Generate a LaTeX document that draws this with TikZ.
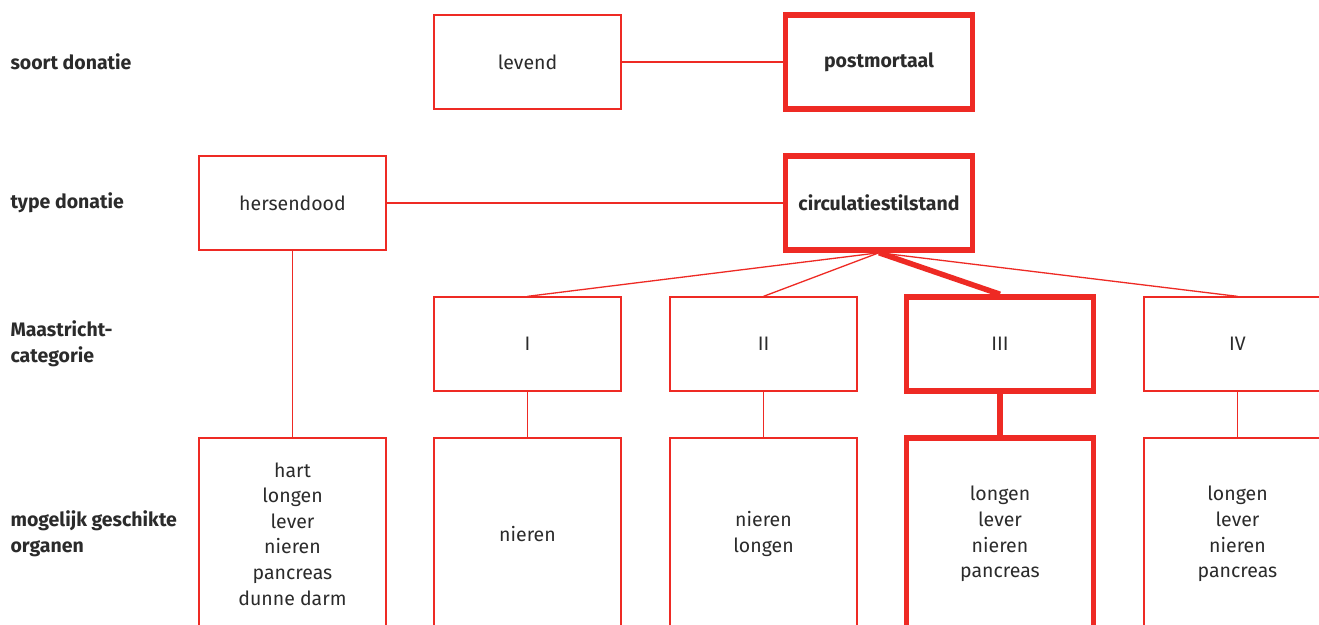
\documentclass[tikz,border=0pt]{standalone}
\usepackage{fontspec}
\setmainfont{Fira Sans}
\usetikzlibrary{positioning}
\definecolor{donred}{HTML}{EE2A24}
\definecolor{dontext}{HTML}{2B2B2B}
\newcommand{\donsize}{\fontsize{19.5}{25.6}\selectfont}
\tikzstyle{box}   = [rectangle, draw=donred, line width=1.3pt, minimum width=187pt,
                     minimum height=94pt, text=dontext, align=center, inner sep=0pt]
\tikzstyle{chosen} = [box, line width=5.5pt, font=\donsize\bfseries]
\tikzstyle{organ} = [box, minimum height=192pt]
\tikzstyle{rowlabel} = [anchor=west, align=left, text=dontext, font=\donsize\bfseries]
\tikzstyle{link}  = [donred, line width=1.3pt]
\tikzstyle{path}  = [donred, line width=5.5pt]

\begin{document}
\begin{tikzpicture}[x=1pt, y=-1pt, font=\donsize]
  \useasboundingbox (0,0) rectangle (1319,624);
  \clip (0,0) rectangle (1319,624);
  \fill[white] (0,0) rectangle (1319,624);

  % row labels
  \node[rowlabel] (lsoort) at (7,62)  {soort donatie};
  \node[rowlabel] (ltype)  at (7,203) {type donatie};
  \node[rowlabel] (lcat)   at (7,344) {Maastricht-\\categorie};
  \node[rowlabel] (lorg)   at (7,534) {mogelijk geschikte\\organen};

  % soort donatie
  \node[box]    (levend)  at (527.5,62) {levend};
  \node[chosen] (postmor) at (879,62)   {postmortaal};

  % type donatie
  \node[box]    (hersen) at (292.5,203) {hersendood};
  \node[chosen] (circ)   at (879,203)   {circulatiestilstand};

  % Maastricht-categorie
  \node[box]                      (catI)   at (527.5,344) {I};
  \node[box]                      (catII)  at (763.5,344) {II};
  \node[chosen, font=\donsize]    (catIII) at (1000,344)  {III};
  \node[box]                      (catIV)  at (1237.5,344) {IV};

  % organen
  \node[organ] (orgH)   at (292.5,534) {hart\\longen\\lever\\nieren\\pancreas\\dunne darm};
  \node[organ] (orgI)   at (527.5,534) {nieren};
  \node[organ] (orgII)  at (763.5,534) {nieren\\longen};
  \node[organ, line width=5.5pt] (orgIII) at (1000,534) {longen\\lever\\nieren\\pancreas};
  \node[organ] (orgIV)  at (1237.5,534) {longen\\lever\\nieren\\pancreas};

  % verbindingen
  \draw[link] (levend) -- (postmor);
  \draw[link] (hersen) -- (circ);
  \draw[link] (hersen) -- (orgH);
  \draw[link] (circ.south) -- (catI.north);
  \draw[link] (circ.south) -- (catII.north);
  \draw[path] (circ.south) -- (catIII.north);
  \draw[link] (circ.south) -- (catIV.north);
  \draw[link] (catI) -- (orgI);
  \draw[link] (catII) -- (orgII);
  \draw[path] (catIII) -- (orgIII);
  \draw[link] (catIV) -- (orgIV);
\end{tikzpicture}
\end{document}
